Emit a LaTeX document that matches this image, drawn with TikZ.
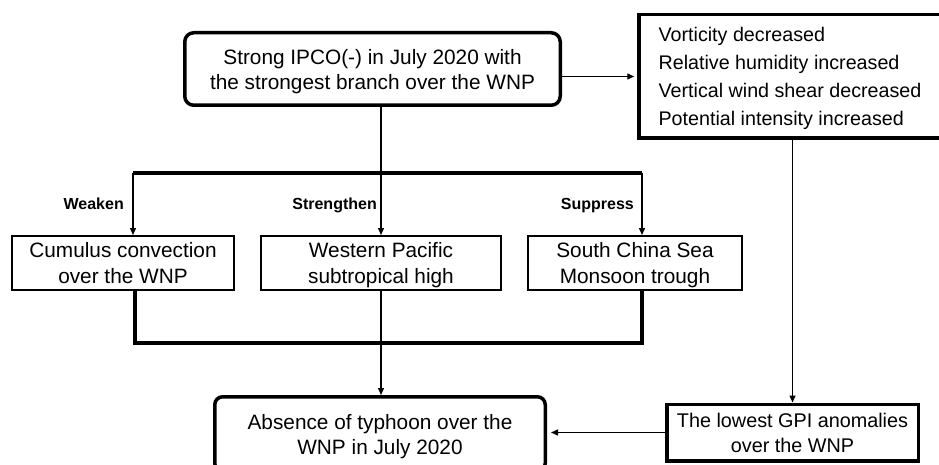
\documentclass[tikz,border=0pt]{standalone}
\usepackage{fontspec}
\setmainfont{Liberation Sans}
\usepackage{tikz}
\usetikzlibrary{
    arrows.meta,
    calc,
    positioning
}
\tikzset{rndb/.style={draw, rounded corners=9pt, line width=3.5pt, align=center, inner sep=0pt, text depth=-1.5pt, font=\fontsize{20.8}{25}\selectfont}}
\tikzset{sqrb/.style={draw, line width=2pt, align=center, inner sep=0pt, text depth=-1.5pt, minimum height=54pt, font=\fontsize{20.8}{26}\selectfont}}
\tikzset{thkb/.style={draw, line width=3.5pt, align=center, inner sep=0pt, text depth=-1.5pt, font=\fontsize{19.8}{25}\selectfont}}
\tikzset{arw/.style={line width=1.4pt, -{Triangle[length=7pt, width=6pt]}}}
\tikzset{tkbar/.style={line width=4pt}}
\tikzset{lbl/.style={anchor=base east, inner sep=0pt, font=\fontsize{16}{19}\selectfont\bfseries}}

\begin{document}
\begin{tikzpicture}[x=1pt, y=-1pt]
                        \useasboundingbox (0, 0) rectangle (939, 465);
                        \clip (0, 0) rectangle (939, 465);

                        \node[rndb, minimum width=375.5pt, minimum height=72.5pt] (ipco) at (372.5, 69) {Strong IPCO(-) in July 2020 with\\the strongest branch over the WNP};
                        \node[thkb, align=left, minimum width=302pt, minimum height=123.5pt, font=\fontsize{19.7}{28}\selectfont] (vort) at (790, 76.5) {Vorticity decreased\\Relative humidity increased\\Vertical wind shear decreased\\Potential intensity increased};

                        \node[sqrb, minimum width=222pt] (cumu) at (123, 263) {Cumulus convection\\over the WNP};
                        \node[sqrb, minimum width=240pt] (wpsh) at (381, 263) {Western Pacific\\subtropical high};
                        \node[sqrb, minimum width=214pt] (scsm) at (635, 263) {South China Sea\\Monsoon trough};

                        \node[rndb, rounded corners=8pt, minimum width=330.5pt, minimum height=74.5pt] (notc) at (380, 434) {Absence of typhoon over the\\WNP in July 2020};
                        \node[thkb, minimum width=251.5pt, minimum height=56.5pt] (gpia) at (792.5, 432.5) {The lowest GPI anomalies\\over the WNP};

                        \node[lbl] (wkn) at (124, 209) {Weaken};
                        \node[lbl] (stn) at (377, 209) {Strengthen};
                        \node[lbl] (spr) at (634, 209) {Suppress};

                        \coordinate (barL) at (133, 173);
                        \coordinate (barR) at (642, 173);
                        \coordinate (botL) at (135, 343);
                        \coordinate (botR) at (642, 343);

                        \draw[tkbar] (barL) -- (barR);
                        \draw[arw] (barL) -- (barL |- cumu.north);
                        \draw[arw] (barR) -- (barR |- scsm.north);
                        \draw[arw] (wpsh.north |- ipco.south) -- (wpsh.north);
                        \draw[arw, shorten >=3pt] (ipco.east |- vort.west) -- (vort.west);

                        \draw[tkbar] (botL |- cumu.south) -- (botL) -- (botR) -- (botR |- scsm.south);
                        \draw[arw] (wpsh.south) -- (wpsh.south |- notc.north);
                        \draw[arw] (gpia.north |- vort.south) -- (gpia.north);
                        \draw[arw, shorten >=4pt] (gpia.west) -- (gpia.west -| notc.east);
                    \end{tikzpicture}
\end{document}
